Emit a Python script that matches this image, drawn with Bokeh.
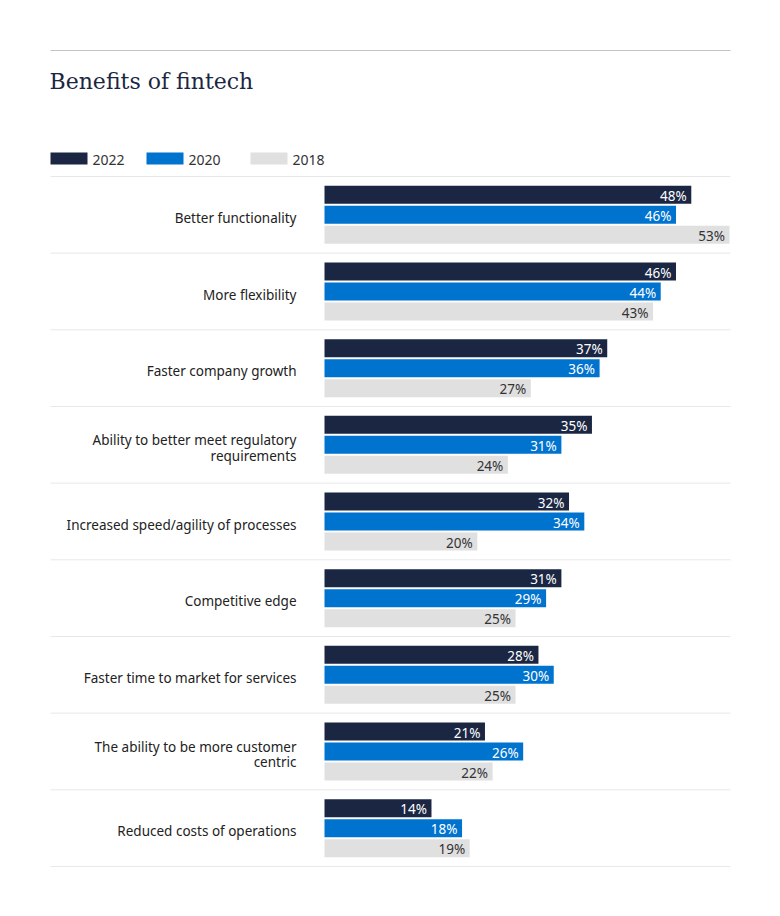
from bokeh.plotting import figure
from bokeh.models import Range1d
from bokeh.core.properties import value
from bokeh.embed import file_html
from bokeh.resources import INLINE

categories = [
    "Better functionality",
    "More flexibility",
    "Faster company growth",
    "Ability to better meet regulatory\nrequirements",
    "Increased speed/agility of processes",
    "Competitive edge",
    "Faster time to market for services",
    "The ability to be more customer\ncentric",
    "Reduced costs of operations",
]
years = ["2022", "2020", "2018"]
v2022 = [48, 46, 37, 35, 32, 31, 28, 21, 14]
v2020 = [46, 44, 36, 31, 34, 29, 30, 26, 18]
v2018 = [53, 43, 27, 24, 20, 25, 25, 22, 19]
series = [v2022, v2020, v2018]
colors = ["#1a2642", "#0073cf", "#e0e0e0"]
label_colors = ["#ffffff", "#ffffff", "#333333"]

# layout (page pixel coordinates)
W, H = 764, 900
OX, OY = 0, 0
BAR0 = 324.0
SCALE = (729.0 - 324.0) / 53.0  # px per percent


def px(xp):
    return (xp - BAR0) / SCALE


p = figure(width=W, height=H, output_backend="svg", toolbar_location=None,
           x_range=Range1d(px(OX), px(OX + W)), y_range=Range1d(OY + H, OY),
           min_border=0, outline_line_color=None)
p.axis.visible = False
p.grid.visible = False
p.background_fill_color = "white"
p.border_fill_color = "white"

sans = value("Noto Sans")

# top rule and title
p.segment(x0=[px(50)], x1=[px(730)], y0=[50], y1=[50], line_color="#c4c4c4", line_width=1)
p.text(x=[px(49)], y=[81], text=["Benefits of fintech"], text_font=value("DejaVu Serif"),
       text_font_size="22px", text_color="#1a2642", text_baseline="middle", text_align="left")

# legend
leg_x = [50, 146, 250]
for k in range(3):
    p.quad(left=[px(leg_x[k])], right=[px(leg_x[k] + 37)], top=[152], bottom=[164],
           fill_color=colors[k], line_color=None)
    p.text(x=[px(leg_x[k] + 42)], y=[159], text=[years[k]], text_font=sans,
           text_font_size="14px", text_color="#333333", text_baseline="middle")

# separators
ROW0 = 176.0
ROWH = (866.0 - 176.0) / 9
seps = [ROW0 + i * ROWH for i in range(len(categories) + 1)]
p.segment(x0=[px(50)] * len(seps), x1=[px(730)] * len(seps), y0=seps, y1=seps,
          line_color="#e8e8e8", line_width=1)

centers = [ROW0 + ROWH / 2 + i * ROWH for i in range(len(categories))]

for k in range(3):
    ys = [c + (k - 1) * 20 for c in centers]
    p.hbar(y=ys, left=0, right=series[k], height=18, fill_color=colors[k], line_color=None)
    p.text(x=[v - 0.6 for v in series[k]], y=[y + 1 for y in ys],
           text=[f"{v}%" for v in series[k]], text_font=sans, text_font_size="13.5px",
           text_color=label_colors[k], text_align="right", text_baseline="middle")

p.text(x=[px(296)] * len(categories), y=[c + 3 for c in centers], text=categories,
       text_font=sans, text_font_size="13.5px", text_color="#222222",
       text_align="right", text_baseline="middle", text_line_height=0.88)

open("out.html", "w").write(file_html(p, INLINE))
